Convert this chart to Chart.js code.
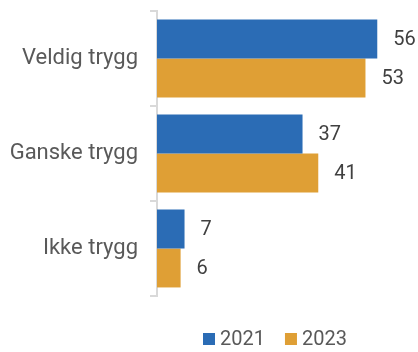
<!DOCTYPE html>
<html><head><meta charset="utf-8">
<script src="https://cdn.jsdelivr.net/npm/chart.js@4"></script>
<style>html,body{margin:0;padding:0;background:#fff}#w{width:418px;height:352px}</style>
</head><body><div id="w"><canvas id="c"></canvas></div>
<script>
const categories = ["Veldig trygg", "Ganske trygg", "Ikke trygg"];
const seriesNames = ["2021", "2023"];
const values2021 = [56, 37, 7];
const values2023 = [53, 41, 6];
const colors = ["#2B6CB5", "#DF9F35"];
const FONT = "Roboto, sans-serif";
const FS = 20;
const CAT_FS = 22;

const valueLabels = {
  id: 'valueLabels',
  afterDatasetsDraw(chart) {
    const ctx = chart.ctx;
    ctx.save();
    ctx.font = FS + "px " + FONT;
    ctx.fillStyle = "#404040";
    ctx.textBaseline = "middle";
    ctx.textAlign = "left";
    chart.data.datasets.forEach((ds, i) => {
      chart.getDatasetMeta(i).data.forEach((bar, j) => {
        ctx.fillText(String(ds.data[j]), bar.x + 16, bar.y + 1);
      });
    });
    ctx.restore();
  }
};
const customLegend = {
  id: 'customLegend',
  afterDraw(chart) {
    const ctx = chart.ctx;
    ctx.save();
    ctx.font = FS + "px " + FONT;
    ctx.textBaseline = "middle";
    ctx.textAlign = "left";
    let x = 203;
    const y = 339;
    chart.data.datasets.forEach((ds) => {
      ctx.fillStyle = ds.backgroundColor;
      ctx.fillRect(x, y - 6, 12, 12);
      ctx.fillStyle = "#595959";
      ctx.fillText(ds.label, x + 17, y + 1);
      x += 17 + ctx.measureText(ds.label).width + 20;
    });
    ctx.restore();
  }
};

new Chart(document.getElementById('c'), {
  type: 'bar',
  data: {
    labels: categories,
    datasets: [
      { label: seriesNames[0], data: values2021, backgroundColor: colors[0], barPercentage: 1, categoryPercentage: 0.82 },
      { label: seriesNames[1], data: values2023, backgroundColor: colors[1], barPercentage: 1, categoryPercentage: 0.82 }
    ]
  },
  options: {
    indexAxis: 'y',
    responsive: true,
    maintainAspectRatio: false,
    animation: false,
    layout: { padding: { top: 11, right: 25, bottom: 56, left: 0 } },
    scales: {
      x: { display: false, min: 0, max: 60 },
      y: {
        afterFit(s) { s.width = 157; s.paddingTop = 0; s.paddingBottom = 0; },
        border: { display: true, color: '#D9D9D9', width: 2 },
        grid: { display: true, drawOnChartArea: false, drawTicks: true, tickLength: 7, color: '#D9D9D9', lineWidth: 2, offset: true },
        ticks: { color: '#595959', font: { family: FONT, size: CAT_FS }, padding: 12 }
      }
    },
    plugins: {
      legend: { display: false },
      tooltip: { enabled: false }
    }
  },
  plugins: [valueLabels, customLegend]
});
</script></body></html>
